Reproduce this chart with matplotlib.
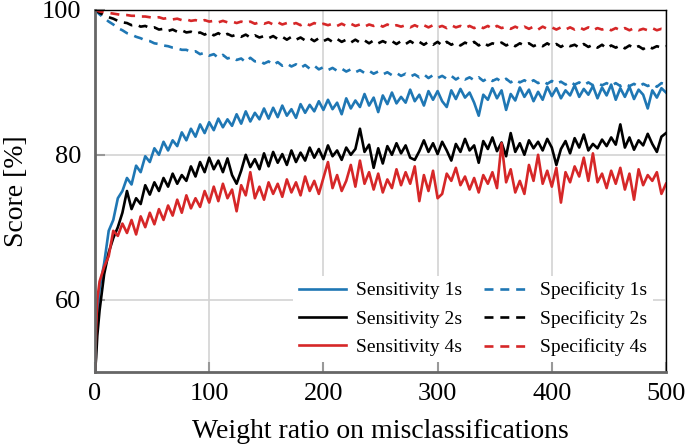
import matplotlib
matplotlib.use("Agg")
import matplotlib.pyplot as plt

# x grid (weight ratio)
X = [0, 1, 2] + list(range(4, 501, 4))

SENS_1S = [50.0, 54.5, 58.0,
    61.5, 65.0, 69.5, 71.0, 74.0, 75.0, 76.8, 75.9, 78.5, 77.6,
    79.8, 79.0, 80.9, 80.0, 81.8, 80.6, 82.0, 81.2, 83.1, 82.0,
    83.6, 82.5, 84.2, 83.0, 84.5, 83.4, 85.0, 83.8, 84.9, 84.0,
    85.6, 84.3, 86.0, 84.6, 85.8, 84.9, 86.4, 85.0, 86.5, 85.2,
    86.8, 85.4, 86.3, 85.1, 87.0, 85.8, 86.9, 86.0, 87.4, 86.2,
    87.6, 86.3, 87.2, 85.6, 87.8, 86.4, 87.5, 86.6, 88.4, 86.8,
    87.9, 85.9, 88.2, 87.0, 88.6, 87.1, 88.0, 87.2, 89.0, 87.4,
    88.3, 86.8, 88.8, 87.6, 88.8, 87.4, 86.6, 88.9, 87.7, 89.1,
    87.9, 88.6, 87.2, 85.4, 88.3, 87.6, 89.2, 87.8, 88.9, 86.2,
    88.4, 87.5, 89.3, 88.0, 89.0, 87.4, 88.7, 87.6, 89.4, 88.1,
    89.2, 87.8, 88.9, 88.2, 89.6, 88.0, 89.1, 88.3, 89.5, 87.8,
    89.3, 88.2, 89.7, 87.6, 89.2, 88.0, 89.4, 87.7, 89.0, 88.3,
    86.4, 88.9, 87.9, 89.2, 88.6]

SENS_2S = [50.0, 52.0, 55.0,
    58.5, 63.5, 66.5, 68.5, 70.0, 72.0, 75.0, 72.5, 74.0, 73.2,
    75.8, 74.5, 76.2, 75.0, 76.8, 75.6, 77.4, 76.0, 77.2, 76.4,
    78.4, 77.0, 79.0, 77.6, 79.6, 78.0, 79.2, 77.6, 79.5, 77.2,
    76.0, 77.8, 80.0, 78.3, 79.4, 78.0, 80.2, 78.4, 80.4, 78.9,
    80.1, 78.6, 80.6, 79.0, 80.3, 79.2, 81.0, 79.6, 80.8, 79.4,
    81.3, 79.8, 80.6, 79.3, 81.0, 80.0, 80.8, 83.6, 80.4, 81.4,
    78.2, 80.9, 78.8, 81.2, 80.0, 81.6, 80.2, 81.3, 79.6, 79.3,
    80.5, 82.0, 80.4, 81.6, 80.1, 81.8, 80.6, 79.2, 81.5, 80.4,
    82.2, 80.6, 81.3, 78.9, 81.9, 80.8, 82.4, 80.5, 81.7, 79.8,
    83.0, 80.4, 81.6, 80.0, 82.0, 80.9, 81.8, 80.6, 82.2, 81.0,
    78.6, 80.8, 81.9, 80.2, 82.3, 81.0, 82.8, 80.6, 81.5, 80.9,
    82.1, 81.2, 82.4, 81.4, 84.2, 81.0, 82.4, 80.7, 82.0, 81.3,
    82.9, 81.5, 80.4, 82.5, 83.0]

SENS_4S = [50.0, 56.0, 60.0,
    62.5, 64.5, 66.0, 69.5, 68.8, 70.5, 69.2, 71.0, 69.0, 71.5,
    70.0, 72.0, 70.4, 72.5, 71.0, 73.0, 71.6, 73.8, 72.0, 74.4,
    72.6, 74.0, 72.8, 75.0, 73.4, 75.6, 73.6, 76.0, 74.0, 75.2,
    72.2, 75.8, 74.4, 77.6, 74.0, 75.6, 73.8, 76.2, 74.6, 76.0,
    74.2, 76.6, 74.8, 76.2, 74.4, 77.0, 75.0, 76.4, 74.6, 76.8,
    79.0, 75.4, 77.2, 75.0, 76.4, 78.6, 75.6, 79.2, 76.0, 77.6,
    75.2, 77.4, 74.8, 76.6, 75.4, 78.0, 75.8, 77.6, 76.0, 78.4,
    73.6, 77.2, 75.0, 77.8, 74.0, 74.6, 77.4, 76.4, 78.2, 75.8,
    77.0, 75.2, 76.8, 74.8, 77.2, 76.0, 77.6, 75.4, 81.6, 76.2,
    78.0, 74.8, 76.4, 74.6, 78.6, 76.4, 80.0, 76.0, 77.8, 75.6,
    78.2, 73.4, 77.6, 76.2, 78.4, 77.0, 79.6, 76.4, 80.2, 76.2,
    77.4, 75.4, 77.8, 76.0, 78.2, 75.2, 77.4, 73.8, 78.0, 75.8,
    77.2, 76.4, 77.6, 74.6, 76.0]

SPEC_1S = [100.0, 99.9, 99.7,
    99.4, 98.9, 98.4, 98.0, 97.5, 97.2, 96.8, 96.6, 96.3, 96.1,
    95.8, 95.7, 95.4, 95.3, 95.1, 95.0, 94.8, 94.7, 94.5, 94.5,
    94.2, 94.3, 93.9, 94.1, 93.7, 93.9, 93.4, 93.8, 93.3, 93.5,
    93.1, 93.3, 92.8, 93.4, 92.9, 93.0, 92.6, 92.9, 92.4, 92.8,
    92.3, 92.6, 92.2, 92.5, 92.0, 92.4, 91.9, 92.3, 91.8, 92.1,
    91.7, 92.0, 91.6, 91.9, 91.5, 91.8, 91.4, 91.7, 91.3, 91.6,
    91.2, 91.5, 91.1, 91.4, 91.0, 91.3, 90.9, 91.2, 90.8, 91.1,
    90.7, 91.1, 90.6, 91.0, 90.6, 90.9, 90.5, 90.9, 90.4, 90.8,
    90.4, 90.7, 90.3, 90.7, 90.2, 90.6, 90.2, 90.5, 90.1, 90.5,
    90.0, 90.4, 90.0, 90.3, 89.9, 90.3, 89.9, 90.2, 89.8, 90.2,
    89.8, 90.1, 89.7, 90.1, 89.7, 90.0, 89.6, 90.0, 89.6, 89.9,
    89.6, 89.9, 89.5, 89.9, 89.5, 89.8, 89.5, 89.8, 89.4, 89.8,
    89.5, 89.8, 89.4, 89.9, 89.7]

SPEC_2S = [100.0, 99.95, 99.85,
    99.6, 99.3, 99.0, 98.8, 98.5, 98.3, 98.2, 97.9, 98.0, 97.7,
    97.8, 97.5, 97.6, 97.3, 97.4, 97.1, 97.3, 97.0, 97.2, 96.9,
    97.0, 96.7, 96.9, 96.6, 96.9, 96.5, 96.8, 96.4, 96.7, 96.4,
    96.6, 96.3, 96.6, 96.2, 96.5, 96.2, 96.4, 96.1, 96.4, 96.0,
    96.3, 95.9, 96.3, 95.9, 96.2, 95.8, 96.1, 95.7, 96.1, 95.7,
    96.0, 95.6, 96.0, 95.6, 95.9, 95.5, 95.9, 95.5, 95.8, 95.4,
    95.8, 95.4, 95.7, 95.4, 95.7, 95.3, 95.7, 95.3, 95.7, 95.3,
    95.6, 95.2, 95.6, 95.2, 95.6, 95.1, 95.6, 95.2, 95.5, 95.1,
    95.5, 95.2, 95.6, 95.1, 95.5, 95.1, 95.4, 95.2, 95.5, 95.1,
    95.4, 95.0, 95.4, 95.1, 95.4, 95.0, 95.3, 95.0, 95.4, 95.0,
    95.3, 94.9, 95.3, 95.0, 95.2, 94.8, 95.3, 94.9, 95.2, 94.8,
    95.2, 94.7, 95.1, 94.8, 95.1, 94.7, 95.1, 94.7, 95.0, 94.6,
    95.0, 94.7, 95.0, 94.8, 95.0]

SPEC_4S = [100.0, 99.97, 99.9,
    99.8, 99.7, 99.6, 99.5, 99.4, 99.3, 99.3, 99.2, 99.2, 99.1,
    99.1, 99.0, 98.9, 99.0, 98.8, 98.9, 98.7, 98.8, 98.6, 98.7,
    98.5, 98.6, 98.4, 98.6, 98.4, 98.5, 98.3, 98.5, 98.3, 98.4,
    98.2, 98.4, 98.2, 98.4, 98.1, 98.3, 98.1, 98.3, 98.0, 98.3,
    98.0, 98.2, 98.0, 98.2, 97.9, 98.2, 97.9, 98.2, 97.9, 98.1,
    97.9, 98.1, 97.8, 98.1, 97.8, 98.1, 97.8, 98.0, 97.7, 98.0,
    97.8, 98.0, 97.7, 98.0, 97.7, 97.9, 97.7, 97.9, 97.6, 97.9,
    97.6, 97.9, 97.6, 97.9, 97.6, 97.8, 97.5, 97.9, 97.6, 97.8,
    97.5, 97.8, 97.5, 97.8, 97.5, 97.8, 97.4, 97.8, 97.5, 97.7,
    97.4, 97.7, 97.4, 97.7, 97.4, 97.7, 97.3, 97.7, 97.4, 97.6,
    97.3, 97.6, 97.3, 97.6, 97.3, 97.6, 97.3, 97.6, 97.2, 97.5,
    97.3, 97.5, 97.2, 97.5, 97.2, 97.5, 97.2, 97.5, 97.2, 97.4,
    97.2, 97.5, 97.2, 97.4, 97.3]

LABELS_SENS = ["Sensitivity 1s", "Sensitivity 2s", "Sensitivity 4s"]
LABELS_SPEC = ["Specificity 1s", "Specificity 2s", "Specificity 4s"]
COLORS = ["#1f77b4", "#000000", "#d62728"]
X_TICKS = [0, 100, 200, 300, 400, 500]
Y_TICKS = [60, 80, 100]

plt.rcParams["font.family"] = ["Liberation Serif", "DejaVu Serif"]

fig = plt.figure(figsize=(6.85, 4.46), dpi=100)
ax = fig.add_axes([95 / 685, 1 - 372 / 446, (666 - 95) / 685, (372 - 10) / 446])

for ys, lab, c in zip([SENS_1S, SENS_2S, SENS_4S], LABELS_SENS, COLORS):
    ax.plot(X, ys, color=c, lw=1.9, label=lab, zorder=3)
for ys, lab, c in zip([SPEC_1S, SPEC_2S, SPEC_4S], LABELS_SPEC, COLORS):
    ax.plot(X, ys, color=c, lw=1.9, ls=(0, (3.4, 2.6)), label=lab, zorder=3)

ax.set_xlim(0, 500)
ax.set_ylim(50, 100)
ax.set_xticks(X_TICKS)
ax.set_yticks(Y_TICKS)
ax.grid(True, color="#d3d3d3", lw=1.2, zorder=0)
ax.tick_params(direction="in", length=7, width=1.5, color="#999999",
               labelsize=19, labelcolor="black")
ax.tick_params(axis="y", pad=10)
ax.tick_params(axis="x", pad=8)
for s in ["left", "bottom"]:
    ax.spines[s].set_color("#666666")
    ax.spines[s].set_linewidth(2.0)
    ax.spines[s].set_zorder(6)
for s in ["top", "right"]:
    ax.spines[s].set_color("black")
    ax.spines[s].set_linewidth(1.0)
    ax.spines[s].set_zorder(6)

ax.set_xlabel("Weight ratio on misclassifications", fontsize=20, labelpad=10)
ax.set_ylabel("Score [%]", fontsize=20, labelpad=9)

leg = ax.legend(ncol=2, loc="lower right", bbox_to_anchor=(0.995, 0.0),
                fontsize=14, frameon=True, framealpha=1.0, edgecolor="none",
                facecolor="white", fancybox=False, handlelength=2.4,
                handletextpad=0.5, columnspacing=1.15, labelspacing=0.55,
                borderpad=0.3)
leg.set_zorder(5)

fig.savefig("out.png", dpi=100)
